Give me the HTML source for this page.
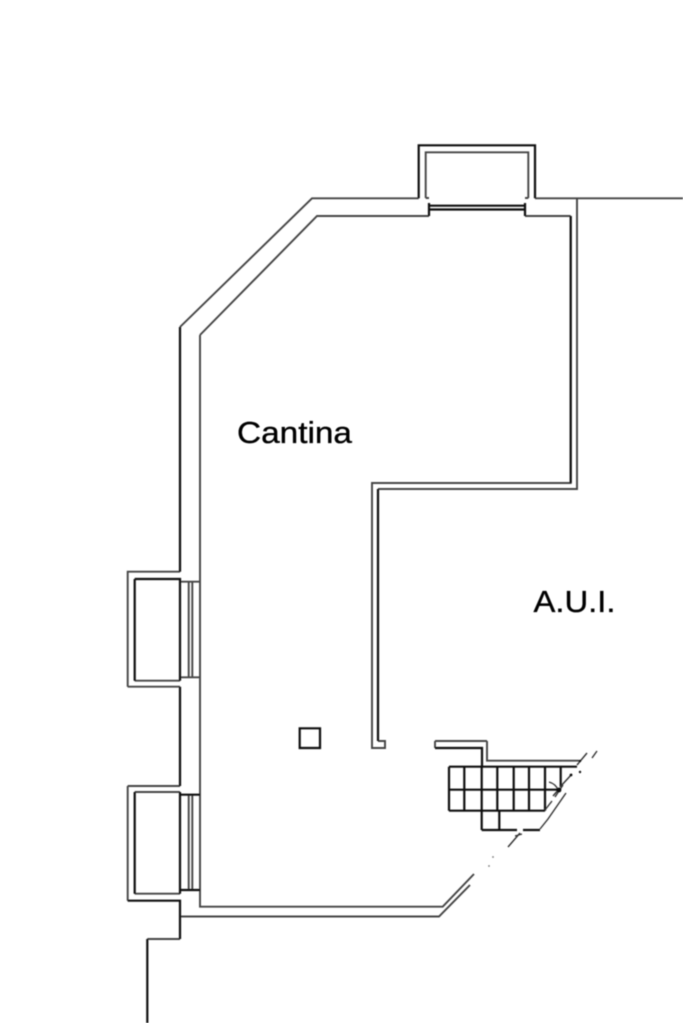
<!DOCTYPE html>
<html>
<head>
<meta charset="utf-8">
<style>
html,body{margin:0;padding:0;background:#fff;width:683px;height:1023px;overflow:hidden}
svg{display:block}
text{font-family:"Liberation Sans",sans-serif;fill:#000}
</style>
</head>
<body>
<svg width="683" height="1023" viewBox="0 0 683 1023" xmlns="http://www.w3.org/2000/svg">
<defs><filter id="b" x="-5%" y="-5%" width="110%" height="110%"><feGaussianBlur stdDeviation="0.4"/></filter></defs>
<rect width="683" height="1023" fill="#fff"/>
<g filter="url(#b)" fill="none" stroke-linejoin="miter">
  <!-- thin gray walls -->
  <g stroke="#444" stroke-width="1.9">
    <path d="M127.7 786V900.7"/>
    <path d="M127.7 686.7V571.7H180"/>
    <path d="M127.7 686.7H180"/>
    <path d="M127.7 786H180"/>
    <path d="M180 327L312 198.3H418.7"/>
    <path d="M535 198.3H683"/>
    <path d="M577 198.3V489H378"/>
    <path d="M200 335L317 216H429"/>
    <path d="M525 216H570.7"/>
    <path d="M570.7 216V483H372V748H385V741H378"/>
    <path d="M200 335V906.7H442.7L474 874"/>
    <path d="M180 916.5H439L470 885"/>
    <path d="M147.3 939H180"/>
    <path d="M425.7 198V152.3H528.3V198"/>
    <path d="M425.7 198H429M528.3 198H525"/>
    <path d="M188.7 581.7V677.3M192.3 581.7V677.3"/>
    <path d="M188.7 794.7V890M192.3 794.7V890"/>
    <path d="M180 581.7H200M180 677.3H200"/>
    <path d="M487 741V760.7H579"/>
    <path d="M435 741H487"/>
    <path d="M134.7 680.7H180M134.7 893.7H180M134.7 792H180"/>
    <path d="M435 741V748"/>
  </g>
  <!-- dark heavier lines -->
  <g stroke="#111" stroke-width="2.2">
    <path d="M418.7 198.3V145.3H535V198.3"/>
    <path d="M429 203V216M525 203V216"/>
    <path d="M429 205.7H525M429 209.5H525"/>
    <path d="M180 327V571.7"/>
    <path d="M180 686.7V786"/>
    <path d="M127.7 900.7H180V939"/>
    <path d="M147.3 939V1023"/>
    <path d="M134.7 579H180V680.7M134.7 579V680.7"/>
    <path d="M134.7 792V893.7M180 792V893.7"/>
    <path d="M180 794.7H200M180 890H200"/>
    <path d="M378 489V741"/>
    <path d="M570.7 216V483"/>
    <path d="M435 748H482V766.7"/>
    <path d="M449 766.7H577"/>
    <path d="M449 789.7H558"/>
    <path d="M449 810.7H545"/>
    <path d="M449 766.7V810.7M464.3 766.7V810.7M481.7 766.7V830M497.3 766.7V810.7M513.7 766.7V810.7M529 766.7V810.7M545 766.7V810.7M560.7 766.7V787"/>
    <path d="M499.3 810.7V830M481.7 830H517M523 830H540"/>
    <path d="M299.7 728.3H320V748H299.7Z"/>
  </g>
  <!-- broken stair diagonals -->
  <g stroke="#333" stroke-width="1.4">
    <path d="M508 847L520 833M515 836L522 834"/>
    <path d="M540 829L548 819L566 793"/>
    <path d="M545 810L552 801M555 797L563 785"/>
    <path d="M560 787L572 774"/>
    <path d="M577 765L587 753"/>
    <path d="M592 758L597 751"/>
    <path d="M549 782Q556 784 558 790"/>
    <path d="M553 796L560 788"/>
  </g>
  <g fill="#111" stroke="none">
    <circle cx="559" cy="790" r="2.4"/>
    <circle cx="571" cy="775" r="1.4"/>
    <circle cx="580" cy="772" r="1.2"/>
    <circle cx="580" cy="761" r="1.2"/>
    <circle cx="493" cy="857" r="0.9" fill="#777"/>
    <circle cx="489" cy="866" r="0.9" fill="#777"/>
  </g>
  <text x="237" y="443" font-size="30.5" textLength="115" lengthAdjust="spacingAndGlyphs" stroke="#000" stroke-width="0.35">Cantina</text>
  <text x="533.5" y="612" font-size="31" textLength="82" lengthAdjust="spacingAndGlyphs" stroke="#000" stroke-width="0.35">A.U.I.</text>
</g>
</svg>
</body>
</html>
